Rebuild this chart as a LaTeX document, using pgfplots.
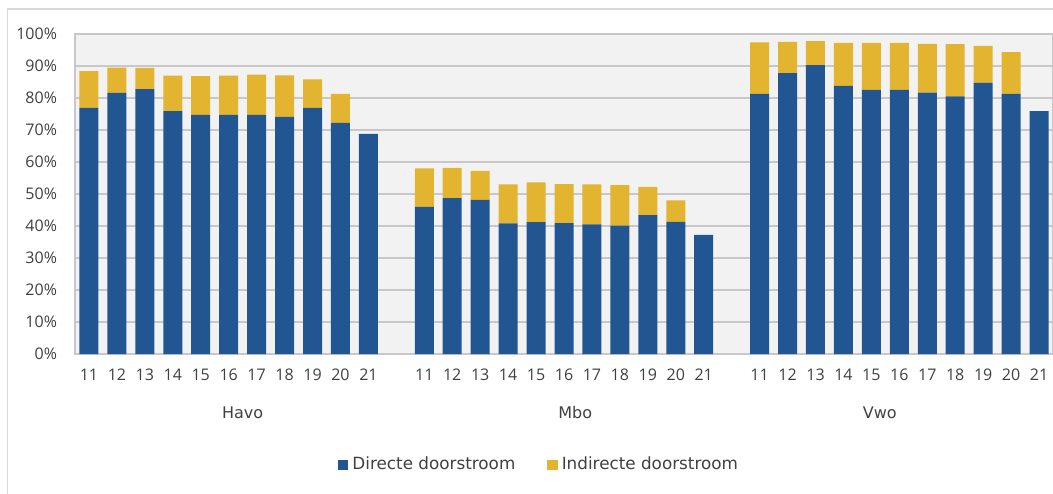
\documentclass[border=0pt]{standalone}
\usepackage{fontspec}
\setmainfont{Open Sans}
\newfontfamily\legfont{DejaVu Sans}
\usepackage{pgfplots}
\pgfplotsset{compat=1.18}
\usepackage{pgfplotstable}
\definecolor{dblue}{HTML}{215692}
\definecolor{dyellow}{HTML}{E3B430}
\definecolor{plotbg}{HTML}{F2F2F2}
\definecolor{gridc}{HTML}{C8C8C8}
\definecolor{txt}{HTML}{404040}
\definecolor{framec}{HTML}{D9D9D9}

\pgfplotstableread{
x  dir    ind
0  76.9   11.5
1  81.6   7.9
2  82.8   6.6
3  75.9   11.1
4  74.7   12.1
5  74.7   12.3
6  74.7   12.6
7  74.1   13.0
8  76.9   8.9
9  72.2   9.05
10 68.75  0
12 46.0   12.0
13 48.7   9.5
14 48.2   9.0
15 40.8   12.2
16 41.2   12.4
17 40.9   12.2
18 40.5   12.5
19 40.1   12.7
20 43.4   8.8
21 41.3   6.7
22 37.2   0
24 81.25  16.15
25 87.8   9.7
26 90.3   7.5
27 83.75  13.45
28 82.5   14.7
29 82.5   14.7
30 81.7   15.2
31 80.5   16.3
32 84.7   11.55
33 81.25  13.05
34 75.9   0
}\datatable

\begin{document}
\begin{tikzpicture}
\path[use as bounding box] (0,0) rectangle (526.5pt,246.5pt);
\draw[framec, line width=0.8pt] (3.75pt,-5pt) -- (3.75pt,242pt) -- (540pt,242pt);
\begin{axis}[
  at={(37.5pt,69.5pt)}, anchor=south west,
  scale only axis, width=489pt, height=160pt,
  ybar stacked, bar width=9.5pt,
  xmin=-0.5, xmax=34.5, ymin=0, ymax=100,
  axis background/.style={fill=plotbg},
  axis line style={draw=gridc, line width=0.8pt},
  ymajorgrids, grid style={draw=gridc, line width=1pt},
  major tick length=0pt,
  xtick={0,...,10,12,13,...,22,24,25,...,34},
  xticklabels={11,12,13,14,15,16,17,18,19,20,21,11,12,13,14,15,16,17,18,19,20,21,11,12,13,14,15,16,17,18,19,20,21},
  ytick={0,10,...,100},
  yticklabel={\pgfmathprintnumber{\tick}\%},
  /pgf/number format/assume math mode=true,
  ticklabel style={font=\fontsize{8}{9}\selectfont, text=txt},
  yticklabel style={xshift=-5.5pt},
  xticklabel style={yshift=-4pt},
  clip=false,
  legend columns=2,
  legend style={at={(0.4755,-0.347)}, anchor=center, draw=none, fill=none,
    font=\legfont\fontsize{8.4}{9}\selectfont, text=txt,
    /tikz/every even column/.append style={column sep=14pt}},
  legend image code/.code={\fill[#1] (0pt,-2.6pt) rectangle (5.2pt,2.6pt);},
]
\addplot[fill=dblue, draw=none] table[x=x, y=dir] {\datatable};
\addlegendentry{Directe doorstroom}
\addplot[fill=dyellow, draw=none] table[x=x, y=ind] {\datatable};
\addlegendentry{Indirecte doorstroom}
\node[font=\legfont\fontsize{8}{9}\selectfont, text=txt] at ([yshift=-29.5pt]axis cs:5.5,0) {Havo};
\node[font=\legfont\fontsize{8}{9}\selectfont, text=txt] at ([yshift=-29.5pt]axis cs:17.4,0) {Mbo};
\node[font=\legfont\fontsize{8}{9}\selectfont, text=txt] at ([yshift=-29.5pt]axis cs:28.3,0) {Vwo};
\end{axis}
\end{tikzpicture}
\end{document}
